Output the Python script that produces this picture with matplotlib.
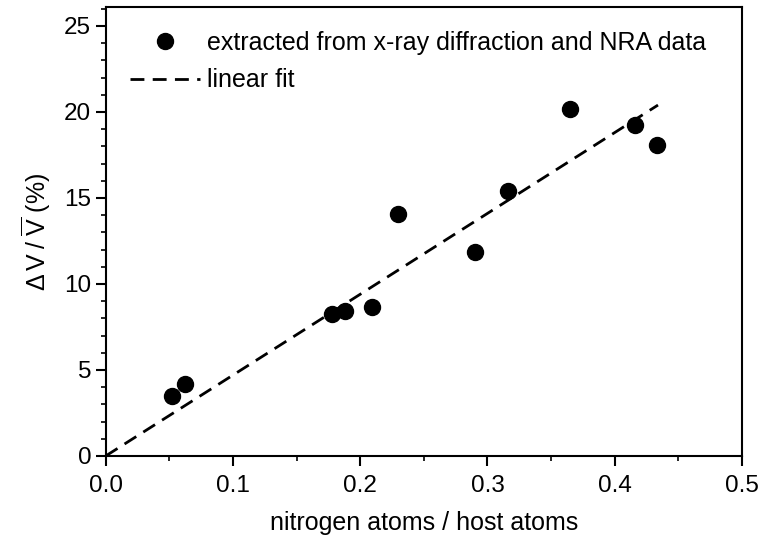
import matplotlib
matplotlib.use("Agg")
import matplotlib.pyplot as plt
import numpy as np
from matplotlib.ticker import MultipleLocator

plt.rcParams['font.family'] = ['Liberation Sans', 'DejaVu Sans']
plt.rcParams['mathtext.fontset'] = 'custom'
plt.rcParams['mathtext.rm'] = 'Liberation Sans'
plt.rcParams['mathtext.it'] = 'Liberation Sans:italic'

# nitrogen atoms / host atoms vs relative volume change (%)
n_ratio = [0.052, 0.062, 0.178, 0.188, 0.209, 0.230, 0.290, 0.316, 0.365, 0.416, 0.433]
dv_pct = [3.5, 4.2, 8.25, 8.45, 8.65, 14.05, 11.85, 15.4, 20.15, 19.25, 18.05]

fit_x = [0.0, 0.434]
fit_slope = 47.0

fig = plt.figure(figsize=(7.61, 5.37), dpi=100)
ax = fig.add_axes([0.139, 0.151, 0.836, 0.836])

ax.plot(n_ratio, dv_pct, 'o', color='black', markersize=11.5,
        label='extracted from x-ray diffraction and NRA data')
fx = np.array(fit_x)
ax.plot(fx, fit_slope * fx, '--', color='black', linewidth=2.0,
        dashes=(5, 3), label='linear fit')

ax.set_xlim(0, 0.5)
ax.set_ylim(0, 26.1)
ax.xaxis.set_major_locator(MultipleLocator(0.1))
ax.xaxis.set_minor_locator(MultipleLocator(0.05))
ax.yaxis.set_major_locator(MultipleLocator(5))
ax.yaxis.set_minor_locator(MultipleLocator(1))
ax.xaxis.set_major_formatter(plt.FormatStrFormatter('%.1f'))

for s in ax.spines.values():
    s.set_linewidth(1.5)
ax.tick_params(which='major', direction='out', length=7, width=1.5, labelsize=17.5)
ax.tick_params(axis='x', which='major', pad=7)
ax.tick_params(which='minor', direction='out', length=3.5, width=1.2)

ax.set_xlabel('nitrogen atoms / host atoms', fontsize=18, labelpad=10)
ax.set_ylabel(r'$\Delta\,\mathrm{V}\;/\;\overline{\mathrm{V}}$ (%)', fontsize=18, labelpad=8)

ax.legend(loc='upper left', frameon=False, fontsize=18, handlelength=2.8,
          handletextpad=0.3, borderaxespad=0.55, labelspacing=0.55,
          numpoints=1)

fig.savefig('out.png', dpi=100)
